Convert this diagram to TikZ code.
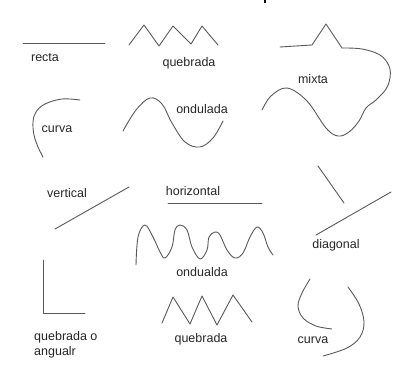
\documentclass[tikz,border=0pt]{standalone}
\usepackage{fontspec}
\setmainfont{Liberation Sans}
\begin{document}
\begin{tikzpicture}[x=1pt,y=-1pt,
  stroke/.style={draw=black!65, line width=0.9pt, line join=round, line cap=round},
  lbl/.style={inner sep=0pt, text=black!85, font=\fontsize{12.5}{15}\selectfont},
  wave/.style={stroke, smooth, tension=0.6}]
\useasboundingbox (0,0) rectangle (404,371);
% cropped mark at top
\fill[black] (263.5,0) rectangle (265.5,3.5);
% recta
\draw[stroke] (23,43) -- (105,43);
\node[lbl] (recta) at (45,58) {recta};
% quebrada (top)
\draw[stroke] (129,45) -- (144,25) -- (159,46) -- (173,26) -- (191,44) -- (202,26) -- (218,45);
\node[lbl] (queb1) at (189,63) {quebrada};
% mixta
\draw[stroke] (280,47) -- (312,45) -- (326,24) -- (342,48);
\draw[wave] plot coordinates {(342,48) (362,49) (380,55) (389,66) (390,78) (386,89) (376,100) (366,108) (359,121) (349,132) (338,136) (326,128) (307,101) (287,88) (271,96) (262,110)};
\node[lbl] (mixta) at (313,79) {mixta};
% curva (top-left)
\draw[wave] plot coordinates {(80,100) (62,99) (45,104) (36,112) (33,122) (34,135) (38,147) (43,157)};
\node[lbl] (curva1) at (57,129) {curva};
% ondulada
\draw[wave] plot coordinates {(123,131) (136,110) (150,98) (162,104) (172,123) (185,142) (200,147) (213,138) (223,121)};
\node[lbl] (ondulada) at (202,109) {ondulada};
% vertical
\node[lbl] (vertical) at (67,193) {vertical};
\draw[stroke] (55,229) -- (129,187);
% horizontal
\node[lbl] (horizontal) at (193,191) {horizontal};
\draw[stroke] (168,203) -- (262,203);
% diagonal
\draw[stroke] (318,166) -- (344,203);
\draw[stroke] (316,235) -- (391,192);
\node[lbl] (diagonal) at (336,245) {diagonal};
% ondualda
\draw[wave] plot coordinates {(136,265) (138,237) (145,225) (153,237) (160,252) (165,258) (172,247) (175,230) (180,225) (187,230) (192,247) (200,259) (207,250) (209,237) (215,232) (220,235) (227,250) (235,258) (243,253) (250,237) (257,227) (263,233) (268,247) (273,255)};
\node[lbl] (ondualda) at (202,272) {ondualda};
% quebrada o angular
\draw[stroke] (43,260) -- (43,313) -- (85,313);
\node[lbl, anchor=west, align=left] (angular) at (34,345) {quebrada o\\angualr};
% quebrada (bottom)
\draw[stroke] (162,323) -- (173,297) -- (190,324) -- (202,296) -- (217,325) -- (233,295) -- (252,322);
\node[lbl] (queb2) at (201,339) {quebrada};
% curva (bottom)
\draw[wave] plot coordinates {(310,279) (302,293) (298,306) (303,318) (316,326) (332,329)};
\draw[wave] plot coordinates {(348,287) (359,304) (364,322) (360,337) (347,348) (323,356)};
\node[lbl] (curva2) at (313,340) {curva};
\end{tikzpicture}
\end{document}
